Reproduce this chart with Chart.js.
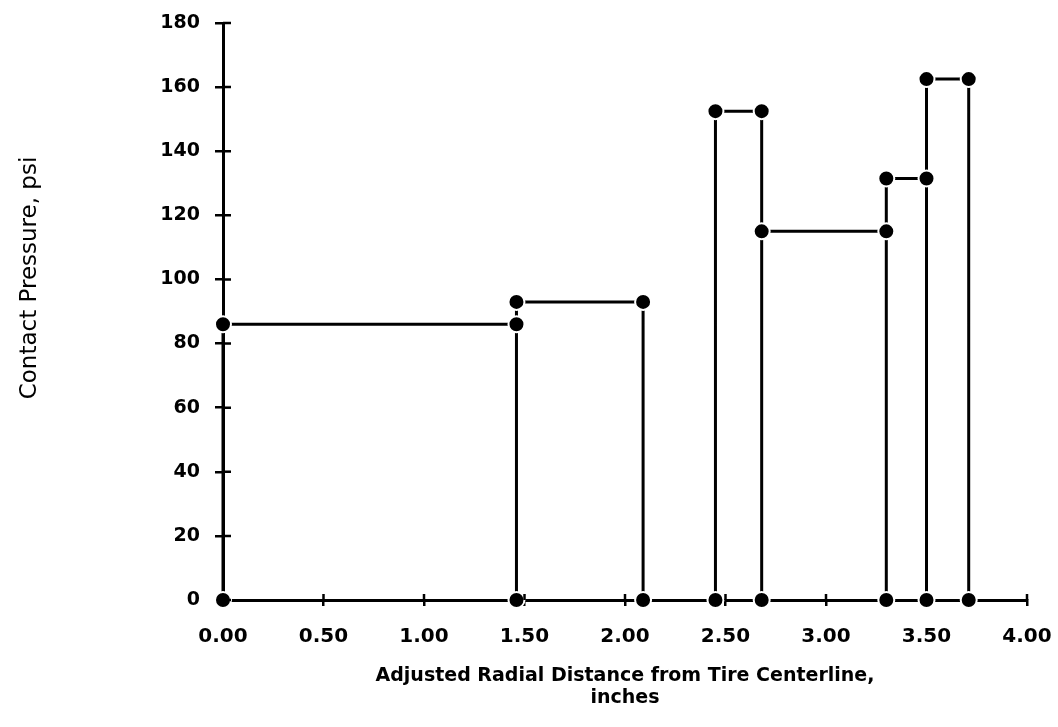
<!DOCTYPE html>
<html>
<head>
<meta charset="utf-8">
<script src="https://cdn.jsdelivr.net/npm/chart.js@4/dist/chart.umd.min.js"></script>
<style>
  html, body { margin: 0; padding: 0; background: #fff; }
  #wrap { width: 1058px; height: 727px; position: relative; }
</style>
</head>
<body>
<div id="wrap"><canvas id="chart"></canvas></div>
<script>
/* global Chart */

// radial stations (inches) where the contact pressure changes
const stationX = [0.00, 1.46, 2.09, 2.45, 2.68, 3.30, 3.50, 3.71];
// contact pressure (psi) acting between stationX[i] and stationX[i + 1]
const stepPressure = [86, 93, 0, 152.5, 115, 131.5, 162.5];

const xTicks = [0, 0.5, 1, 1.5, 2, 2.5, 3, 3.5, 4];
const yTicks = [0, 20, 40, 60, 80, 100, 120, 140, 160, 180];

const yTitle = "Contact Pressure, psi";
const xTitle = ["Adjusted Radial Distance from Tire Centerline,", "inches"];

const INK = "#000";
const tickFont = { family: "'DejaVu Sans', sans-serif", size: 20, weight: "bold" };

// outline of the stepped profile, with null breaks between segments
const buildOutline = () => {
  const pts = [];
  for (let i = 0; i < stepPressure.length; i++) {
    const p = stepPressure[i];
    if (p > 0) {
      pts.push({ x: stationX[i], y: p }, { x: stationX[i + 1], y: p }, { x: stationX[i + 1], y: null });
    }
  }
  stationX.forEach((x, i) => {
    const left = i > 0 ? stepPressure[i - 1] : 0;
    const right = i < stepPressure.length ? stepPressure[i] : 0;
    const top = Math.max(left, right);
    if (top > 0) pts.push({ x, y: 0 }, { x, y: top }, { x, y: null });
  });
  return pts;
};

const buildMarkers = () => {
  const pts = [];
  stepPressure.forEach((p, i) => {
    if (p > 0) pts.push({ x: stationX[i], y: p }, { x: stationX[i + 1], y: p });
  });
  stationX.forEach((x) => pts.push({ x, y: 0 }));
  return pts;
};

// tick marks in the reference cross the axis, so draw the inner half too;
// the y title sits a bit above the plot's middle, so it is placed by hand
const axisExtrasPlugin = {
  id: "axisExtras",
  afterDraw(chart) {
    const { ctx, scales: { x, y } } = chart;
    ctx.save();
    ctx.strokeStyle = INK;
    ctx.lineWidth = 2.5;
    ctx.beginPath();
    for (const v of yTicks) {
      const py = y.getPixelForValue(v);
      ctx.moveTo(x.left, py);
      ctx.lineTo(x.left + 8, py);
    }
    for (const v of xTicks) {
      const px = x.getPixelForValue(v);
      ctx.moveTo(px, y.bottom);
      ctx.lineTo(px, y.bottom - 6);
    }
    ctx.stroke();

    ctx.translate(30, 278);
    ctx.rotate(-Math.PI / 2);
    ctx.fillStyle = INK;
    ctx.font = "23px 'DejaVu Sans', sans-serif";
    ctx.textAlign = "center";
    ctx.textBaseline = "middle";
    ctx.fillText(yTitle, 0, 0);
    ctx.restore();
  }
};

new Chart(document.getElementById("chart"), {
  type: "scatter",
  data: {
    datasets: [
      {
        label: "nodes",
        data: buildMarkers(),
        showLine: false,
        pointStyle: "circle",
        pointRadius: 8,
        pointBackgroundColor: INK,
        pointBorderColor: "#fff",
        pointBorderWidth: 2,
        clip: false
      },
      {
        label: "profile",
        data: buildOutline(),
        showLine: true,
        spanGaps: false,
        borderColor: INK,
        borderWidth: 3,
        pointRadius: 0,
        clip: false
      }
    ]
  },
  plugins: [axisExtrasPlugin],
  options: {
    responsive: true,
    maintainAspectRatio: false,
    animation: false,
    layout: { padding: 0 },
    plugins: {
      legend: { display: false },
      tooltip: { enabled: false }
    },
    scales: {
      x: {
        type: "linear",
        min: 0,
        max: 4,
        afterBuildTicks: (s) => { s.ticks = xTicks.map((value) => ({ value })); },
        afterFit: (s) => {
          s.height = 127;
          s.paddingLeft = 0;
          s.paddingRight = 31;
        },
        border: { color: INK, width: 3 },
        grid: { drawOnChartArea: false, color: INK, lineWidth: 2.5, tickLength: 6 },
        ticks: {
          color: INK,
          font: tickFont,
          padding: 19,
          maxRotation: 0,
          callback: (v) => Number(v).toFixed(2)
        },
        title: {
          display: true,
          text: xTitle,
          color: INK,
          font: { family: "'DejaVu Sans', sans-serif", size: 19, weight: "bold", lineHeight: 1.16 },
          padding: { top: 0, bottom: 18 }
        }
      },
      y: {
        type: "linear",
        min: 0,
        max: 180,
        afterBuildTicks: (s) => { s.ticks = yTicks.map((value) => ({ value })); },
        afterFit: (s) => {
          s.width = 223;
          s.paddingTop = 23;
          s.paddingBottom = 0;
        },
        border: { color: INK, width: 3 },
        grid: { drawOnChartArea: false, color: INK, lineWidth: 2.5, tickLength: 8 },
        ticks: {
          color: INK,
          font: { ...tickFont, size: 19 },
          padding: 15
        },
        title: { display: false }
      }
    }
  }
});
</script>
</body>
</html>
